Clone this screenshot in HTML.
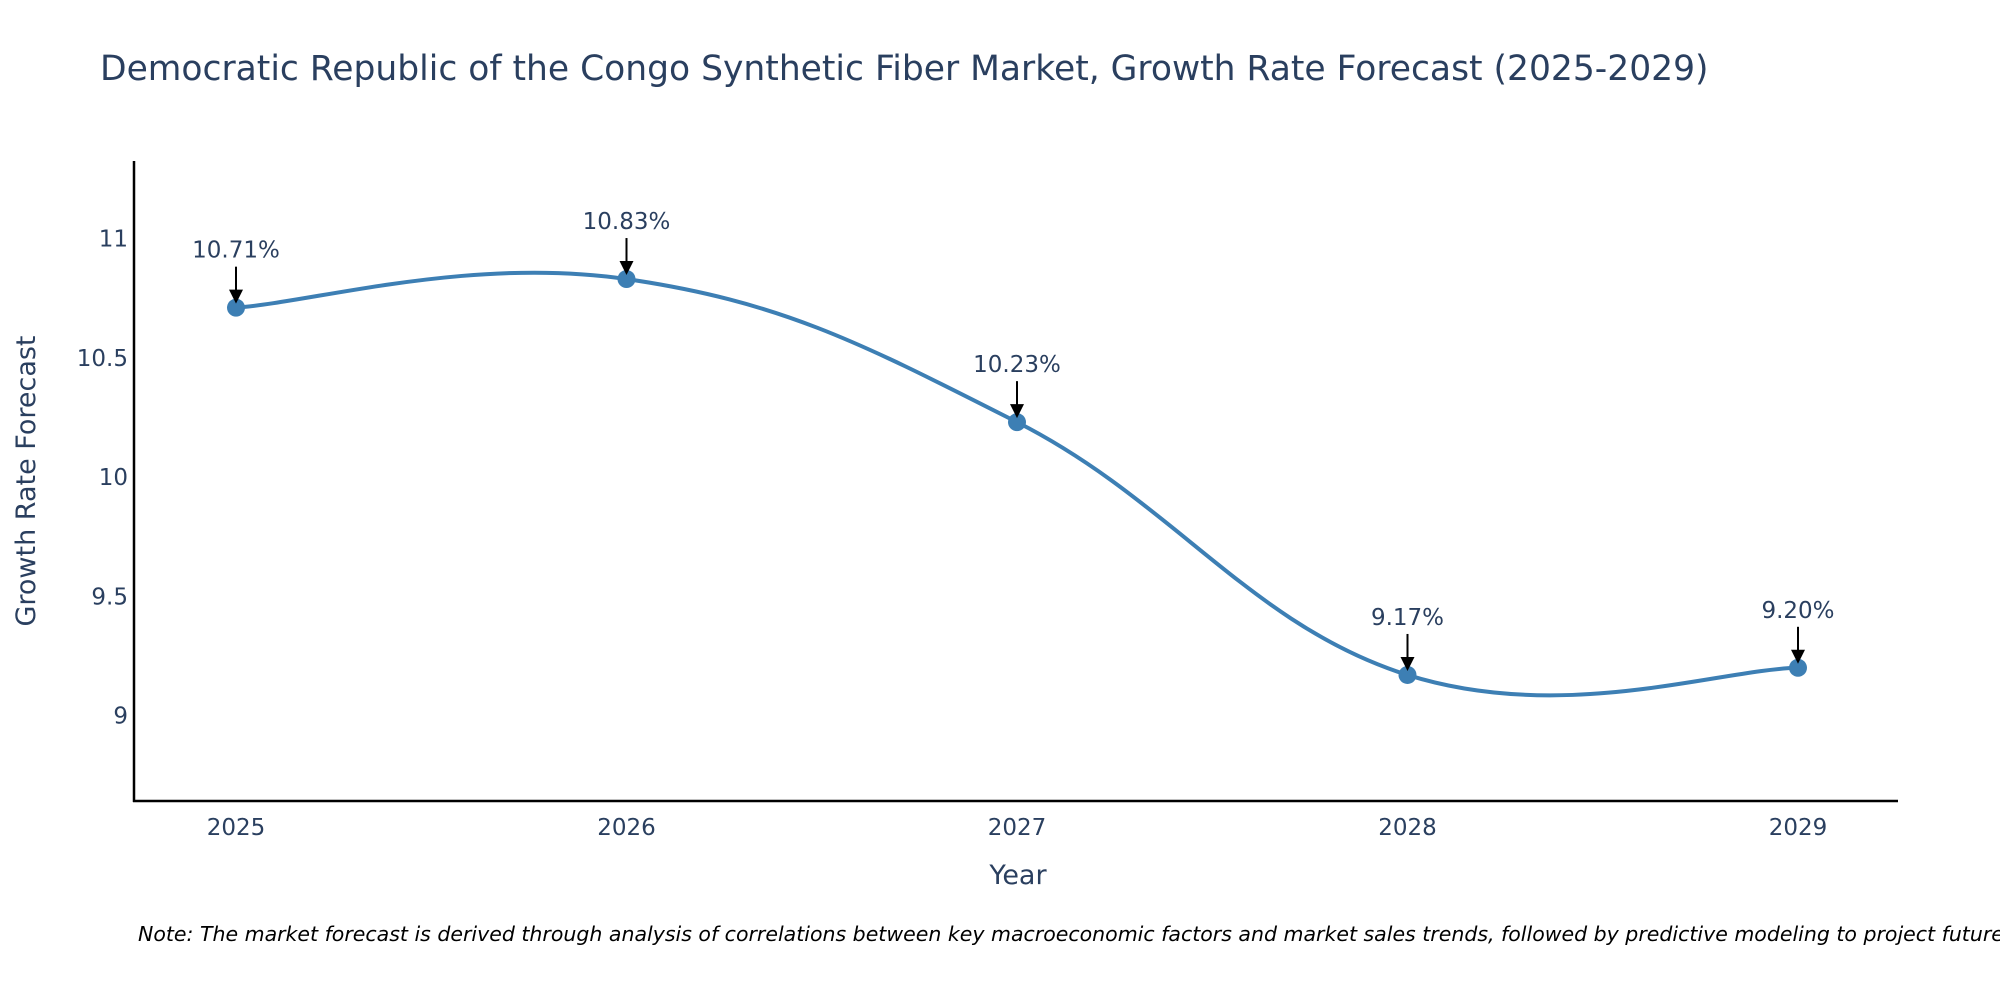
<!DOCTYPE html>
<html><head><meta charset="utf-8">
<style>
html,body{margin:0;padding:0;background:#fff;}
body{width:2000px;height:1000px;overflow:hidden;font-family:"DejaVu Sans","Liberation Sans",sans-serif;}
svg text{font-family:"DejaVu Sans","Liberation Sans",sans-serif;}
</style></head>
<body>
<svg id="chart" width="2000" height="1000" xmlns="http://www.w3.org/2000/svg">
<text x="100" y="80" font-size="34.5" fill="#2a3f5f">Democratic Republic of the Congo Synthetic Fiber Market, Growth Rate Forecast (2025-2029)</text>
<line x1="134" y1="161" x2="134" y2="802" stroke="#000" stroke-width="2.5"/>
<line x1="133" y1="801" x2="1898" y2="801" stroke="#000" stroke-width="2.5"/>
<g id="yticks"></g><g id="xticks"></g>
<path id="line" fill="none" stroke="#3d7fb4" stroke-width="4"/>
<g id="points"></g>
<g id="annots"></g>
<text x="1018" y="884" font-size="27" fill="#2a3f5f" text-anchor="middle">Year</text>
<text transform="translate(35,481) rotate(-90)" font-size="27" fill="#2a3f5f" text-anchor="middle">Growth Rate Forecast</text>
<text x="138" y="941" font-size="20.5" font-style="italic" fill="#000">Note: The market forecast is derived through analysis of correlations between key macroeconomic factors and market sales trends, followed by predictive modeling to project future sales</text>
</svg>
<script>
const years=[2025,2026,2027,2028,2029];
const values=[10.71,10.83,10.23,9.17,9.20];
const labels=["10.71%","10.83%","10.23%","9.17%","9.20%"];
const yTicks=[9,9.5,10,10.5,11];
const yTickLabels=["9","9.5","10","10.5","11"];
const NS="http://www.w3.org/2000/svg";
function xS(i){return 236+i*390.5;}
function yS(v){return 715.5-(v-9)*238.5;}
function mk(t,a,p){const e=document.createElementNS(NS,t);for(const k in a)e.setAttribute(k,a[k]);if(p)p.appendChild(e);return e;}
const yt=document.getElementById('yticks');
yTicks.forEach((v,i)=>{const t=mk('text',{x:128,y:yS(v)+8,'font-size':23,fill:'#2a3f5f','text-anchor':'end'},yt);t.textContent=yTickLabels[i];

});
const xt=document.getElementById('xticks');
years.forEach((y,i)=>{const t=mk('text',{x:xS(i),y:835,'font-size':23,fill:'#2a3f5f','text-anchor':'middle'},xt);t.textContent=y;

});
const P=values.map((v,i)=>[xS(i),yS(v)]);
let d='M'+P[0][0]+','+P[0][1];const s=0.2;
for(let i=0;i<P.length-1;i++){const p0=P[Math.max(i-1,0)],p1=P[i],p2=P[i+1],p3=P[Math.min(i+2,P.length-1)];
const c1=[p1[0]+(p2[0]-p0[0])*s,p1[1]+(p2[1]-p0[1])*s];
const c2=[p2[0]-(p3[0]-p1[0])*s,p2[1]-(p3[1]-p1[1])*s];
d+=' C'+c1+' '+c2+' '+p2;}
document.getElementById('line').setAttribute('d',d);
const pg=document.getElementById('points'),ag=document.getElementById('annots');
P.forEach((p,i)=>{const c=mk('circle',{cx:p[0],cy:p[1],r:9,fill:'#3d7fb4'},pg);


const l=mk('line',{x1:p[0],y1:p[1]-41,x2:p[0],y2:p[1]-14,stroke:'#000','stroke-width':2},ag);


const h=mk('polygon',{points:(p[0]-7)+','+(p[1]-18)+' '+(p[0]+7)+','+(p[1]-18)+' '+p[0]+','+(p[1]-4),fill:'#000'},ag);


const t=mk('text',{x:p[0],y:p[1]-50,'font-size':23,fill:'#2a3f5f','text-anchor':'middle'},ag);t.textContent=labels[i];

});
</script>
</body></html>
